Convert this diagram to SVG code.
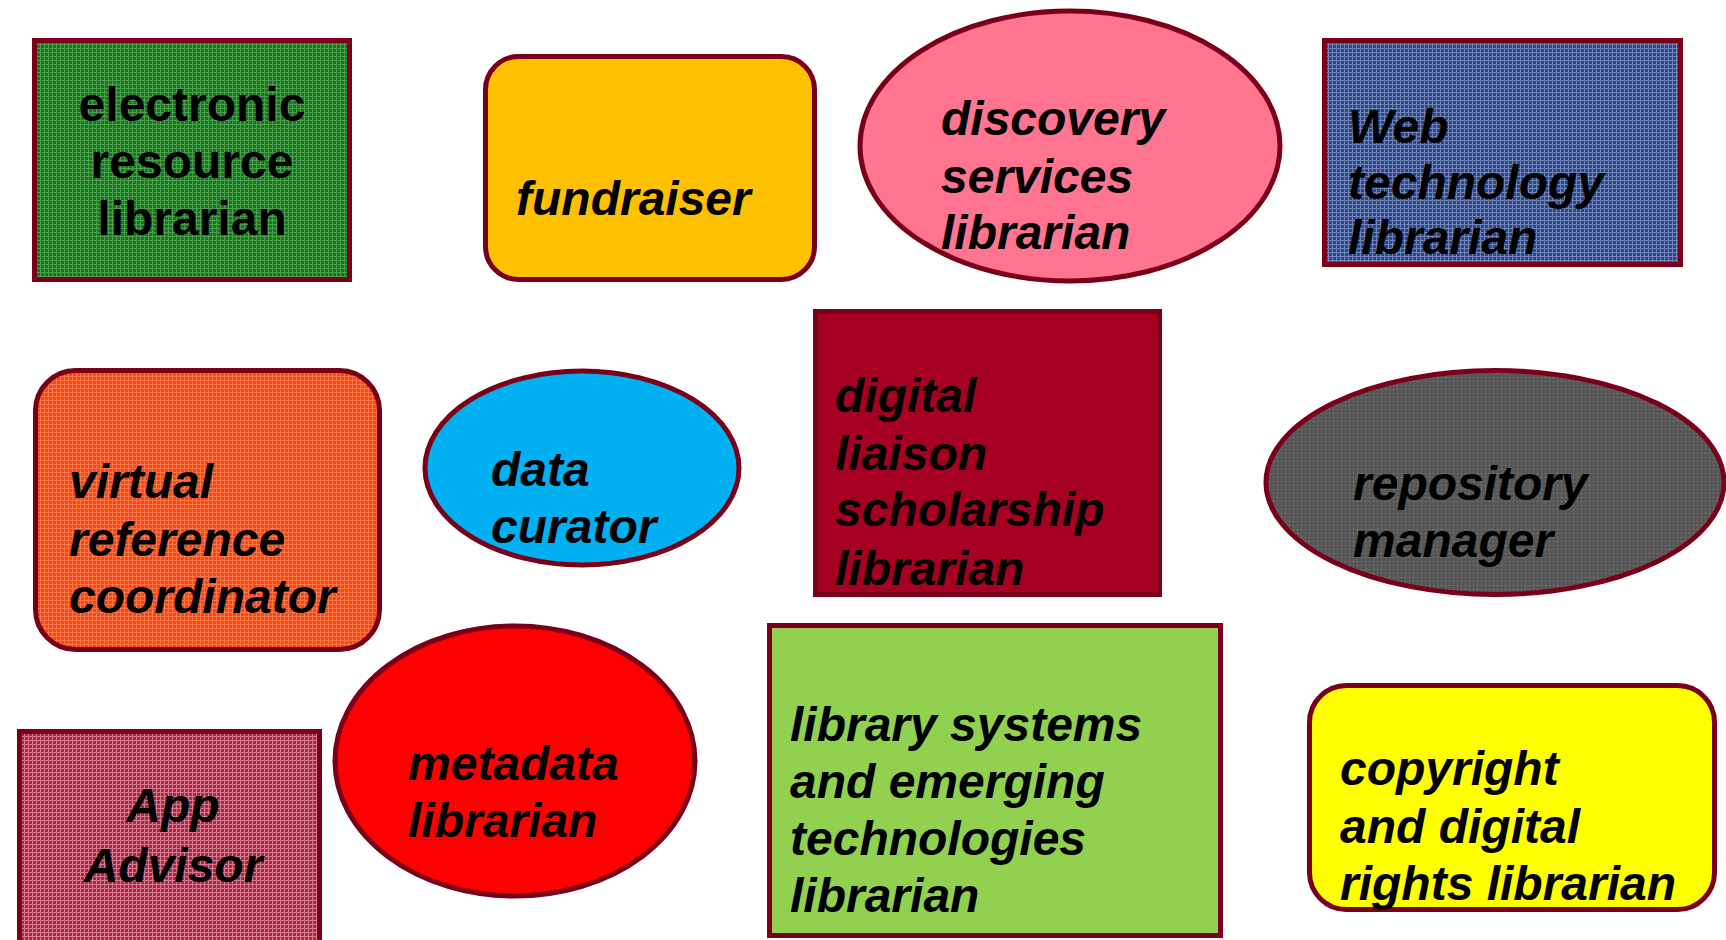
<svg xmlns="http://www.w3.org/2000/svg" width="1726" height="940" viewBox="0 0 1726 940">
<style>
.box{stroke:#7a0019;stroke-width:5}
.t{font-family:"Liberation Sans",Arial,sans-serif;font-size:48px;font-weight:bold;fill:#000}
.i{font-style:italic}
.c{text-anchor:middle}
</style>
<defs>
<pattern id="pGreen" width="4" height="4" patternUnits="userSpaceOnUse"><rect width="4" height="4" fill="#137a17"/><path d="M0 0.5H4M0.5 0V4" stroke="#4c9e4f" stroke-width="1"/></pattern>
<pattern id="pBlue" width="4" height="4" patternUnits="userSpaceOnUse"><rect width="4" height="4" fill="#2a4788"/><path d="M0 0.5H4M0.5 0V4" stroke="#6f83b6" stroke-width="1"/></pattern>
<pattern id="pRose" width="4" height="4" patternUnits="userSpaceOnUse"><rect width="4" height="4" fill="#b02444"/><path d="M0 0.5H4M0.5 0V4" stroke="#d47a8e" stroke-width="1"/></pattern>
<pattern id="pOrange" width="4" height="4" patternUnits="userSpaceOnUse"><rect width="4" height="4" fill="#ff4508"/><path d="M0 0.5H4M0.5 0V4" stroke="#ff7348" stroke-width="1"/></pattern>
<pattern id="pGrey" width="4" height="4" patternUnits="userSpaceOnUse"><rect width="4" height="4" fill="#575757"/><rect x="1" y="1" width="1" height="1" fill="#8a8a8a"/></pattern>
</defs>
<rect width="1726" height="940" fill="#fff"/>
<g id="connectors"/>
<g id="electronic-resource-librarian">
<rect class="box" x="34.5" y="40.5" width="315" height="239" fill="url(#pGreen)"/>
<text class="t c" x="192" y="121">electronic</text>
<text class="t c" x="192" y="178">resource</text>
<text class="t c" x="192" y="235">librarian</text>
</g>
<g id="fundraiser">
<rect class="box" x="485.5" y="56.5" width="329" height="223" rx="33" fill="#ffc000"/>
<text class="t i" x="516" y="215">fundraiser</text>
</g>
<g id="discovery-services-librarian">
<ellipse class="box" cx="1070" cy="146" rx="210" ry="135" fill="#ff758f"/>
<text class="t i" x="941" y="135">discovery</text>
<text class="t i" x="941" y="193">services</text>
<text class="t i" x="941" y="249">librarian</text>
</g>
<g id="web-technology-librarian">
<rect class="box" x="1324.5" y="40.5" width="356" height="224" fill="url(#pBlue)"/>
<text class="t i" x="1348" y="143">Web</text>
<text class="t i" x="1348" y="199">technology</text>
<text class="t i" x="1348" y="254">librarian</text>
</g>
<g id="virtual-reference-coordinator">
<rect class="box" x="35.5" y="370.5" width="344" height="279" rx="40" fill="url(#pOrange)"/>
<text class="t i" x="69" y="498">virtual</text>
<text class="t i" x="69" y="556">reference</text>
<text class="t i" x="69" y="613">coordinator</text>
</g>
<g id="data-curator">
<ellipse class="box" cx="582" cy="468" rx="157" ry="97" fill="#00b0f0"/>
<text class="t i" x="491" y="486">data</text>
<text class="t i" x="491" y="543">curator</text>
</g>
<g id="digital-liaison-scholarship-librarian">
<rect class="box" x="815.5" y="311.5" width="344" height="283" fill="#a50021"/>
<text class="t i" x="835" y="412">digital</text>
<text class="t i" x="835" y="470">liaison</text>
<text class="t i" x="835" y="526">scholarship</text>
<text class="t i" x="835" y="585">librarian</text>
</g>
<g id="repository-manager">
<ellipse class="box" cx="1495" cy="482.5" rx="229" ry="112" fill="url(#pGrey)"/>
<text class="t i" x="1353" y="500">repository</text>
<text class="t i" x="1353" y="557">manager</text>
</g>
<g id="app-advisor">
<rect class="box" x="19.5" y="731.5" width="300" height="220" fill="url(#pRose)"/>
<text class="t i c" x="173" y="822">App</text>
<text class="t i c" x="173" y="882">Advisor</text>
</g>
<g id="metadata-librarian">
<ellipse class="box" cx="515" cy="761" rx="180" ry="135" fill="#ff0000"/>
<text class="t i" x="408" y="780">metadata</text>
<text class="t i" x="408" y="837">librarian</text>
</g>
<g id="library-systems-librarian">
<rect class="box" x="769.5" y="625.5" width="451" height="310" fill="#92d050"/>
<text class="t i" x="790" y="741">library systems</text>
<text class="t i" x="790" y="798">and emerging</text>
<text class="t i" x="790" y="855">technologies</text>
<text class="t i" x="790" y="912">librarian</text>
</g>
<g id="copyright-digital-rights-librarian">
<rect class="box" x="1309.5" y="685.5" width="405" height="224" rx="37" fill="#ffff00"/>
<text class="t i" x="1340" y="785">copyright</text>
<text class="t i" x="1340" y="843">and digital</text>
<text class="t i" x="1340" y="900">rights librarian</text>
</g>
</svg>
